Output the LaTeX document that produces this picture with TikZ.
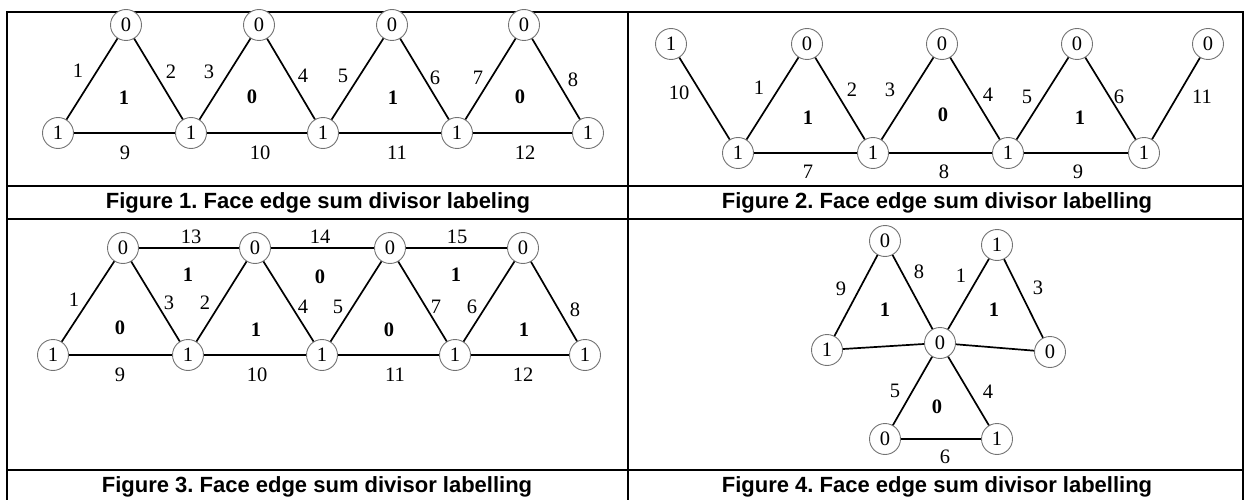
\documentclass[tikz,border=0pt]{standalone}
\usepackage{fontspec}
\setmainfont{Liberation Serif}
\newfontfamily\capfont{Liberation Sans}
\frenchspacing
\begin{document}
\begin{tikzpicture}[x=1pt,y=-1pt,
  v/.style={circle,draw=black!55,line width=0.9pt,minimum size=31pt,inner sep=0pt,fill=white,font=\fontsize{20.5}{20}\selectfont},
  e/.style={line width=1.7pt,black},
  lb/.style={inner sep=0pt,font=\fontsize{20.5}{20}\selectfont},
  fc/.style={inner sep=0pt,font=\fontsize{20.5}{20}\selectfont\bfseries},
  captxt/.style={inner sep=0pt,font=\capfont\fontsize{22}{22}\selectfont\bfseries},
  gridline/.style={line width=1.6pt,black}]
\useasboundingbox (0,0) rectangle (1245,500);
% table
\draw[gridline] (7,500) -- (7,12) -- (1243,12) -- (1243,500);
\draw[gridline] (628,12) -- (628,500);
\draw[gridline] (7,186) -- (1243,186);
\draw[gridline] (7,219) -- (1243,219);
\draw[gridline] (7,470) -- (1243,470);
% ---------- Figure 1 ----------
\node[v] (a1) at (126,25) {0};
\node[v] (a2) at (259,25) {0};
\node[v] (a3) at (392,25) {0};
\node[v] (a4) at (524,25) {0};
\node[v] (b1) at (58,133) {1};
\node[v] (b2) at (191,133) {1};
\node[v] (b3) at (323,133) {1};
\node[v] (b4) at (457,133) {1};
\node[v] (b5) at (588,133) {1};
\draw[e] (b1) -- (a1); \draw[e] (a1) -- (b2); \draw[e] (b2) -- (a2); \draw[e] (a2) -- (b3);
\draw[e] (b3) -- (a3); \draw[e] (a3) -- (b4); \draw[e] (b4) -- (a4); \draw[e] (a4) -- (b5);
\draw[e] (b1) -- (b2); \draw[e] (b2) -- (b3); \draw[e] (b3) -- (b4); \draw[e] (b4) -- (b5);
\node[lb] (l11) at (78,71) {1};
\node[lb] (l12) at (171,72) {2};
\node[lb] (l13) at (209,72) {3};
\node[lb] (l14) at (303,76) {4};
\node[lb] (l15) at (343,76) {5};
\node[lb] (l16) at (435,78) {6};
\node[lb] (l17) at (478,78) {7};
\node[lb] (l18) at (573,80) {8};
\node[lb] (l19) at (125,153) {9};
\node[lb] (l110) at (260,153) {10};
\node[lb] (l111) at (397,153) {11};
\node[lb] (l112) at (525,153) {12};
\node[fc] (f11) at (124,98) {1};
\node[fc] (f12) at (252,97) {0};
\node[fc] (f13) at (393,98) {1};
\node[fc] (f14) at (520,97) {0};
% ---------- Figure 2 ----------
\node[v] (c1) at (671,44) {1};
\node[v] (c2) at (807,44) {0};
\node[v] (c3) at (942,44) {0};
\node[v] (c4) at (1077,44) {0};
\node[v] (c5) at (1208,44) {0};
\node[v] (d1) at (738,153) {1};
\node[v] (d2) at (873,153) {1};
\node[v] (d3) at (1008,153) {1};
\node[v] (d4) at (1144,153) {1};
\draw[e] (c1) -- (d1); \draw[e] (d1) -- (c2); \draw[e] (c2) -- (d2); \draw[e] (d2) -- (c3);
\draw[e] (c3) -- (d3); \draw[e] (d3) -- (c4); \draw[e] (c4) -- (d4); \draw[e] (d4) -- (c5);
\draw[e] (d1) -- (d2); \draw[e] (d2) -- (d3); \draw[e] (d3) -- (d4);
\node[lb] (l210) at (679,93) {10};
\node[lb] (l21) at (759,88) {1};
\node[lb] (l22) at (852,90) {2};
\node[lb] (l23) at (890,90) {3};
\node[lb] (l24) at (988,95) {4};
\node[lb] (l25) at (1027,97) {5};
\node[lb] (l26) at (1119,97) {6};
\node[lb] (l211) at (1202,97) {11};
\node[lb] (l27) at (808,172) {7};
\node[lb] (l28) at (944,172) {8};
\node[lb] (l29) at (1078,172) {9};
\node[fc] (f21) at (808,118) {1};
\node[fc] (f22) at (943,115) {0};
\node[fc] (f23) at (1080,118) {1};
% ---------- Figure 3 ----------
\node[v] (e1) at (123,248) {0};
\node[v] (e2) at (255,248) {0};
\node[v] (e3) at (390,248) {0};
\node[v] (e4) at (523,248) {0};
\node[v] (g1) at (53,355) {1};
\node[v] (g2) at (188,355) {1};
\node[v] (g3) at (322,355) {1};
\node[v] (g4) at (455,355) {1};
\node[v] (g5) at (585,355) {1};
\draw[e] (g1) -- (e1); \draw[e] (e1) -- (g2); \draw[e] (g2) -- (e2); \draw[e] (e2) -- (g3);
\draw[e] (g3) -- (e3); \draw[e] (e3) -- (g4); \draw[e] (g4) -- (e4); \draw[e] (e4) -- (g5);
\draw[e] (g1) -- (g2); \draw[e] (g2) -- (g3); \draw[e] (g3) -- (g4); \draw[e] (g4) -- (g5);
\draw[e] (e1) -- (e2); \draw[e] (e2) -- (e3); \draw[e] (e3) -- (e4);
\node[lb] (l31) at (74,300) {1};
\node[lb] (l33) at (169,303) {3};
\node[lb] (l32) at (205,303) {2};
\node[lb] (l34) at (303,307) {4};
\node[lb] (l35) at (338,307) {5};
\node[lb] (l37) at (436,307) {7};
\node[lb] (l36) at (472,307) {6};
\node[lb] (l38) at (575,310) {8};
\node[lb] (l313) at (191,237) {13};
\node[lb] (l314) at (320,237) {14};
\node[lb] (l315) at (457,237) {15};
\node[lb] (l39) at (120,375) {9};
\node[lb] (l310) at (257,375) {10};
\node[lb] (l311) at (395,375) {11};
\node[lb] (l312) at (523,375) {12};
\node[fc] (f31) at (188,275) {1};
\node[fc] (f32) at (320,277) {0};
\node[fc] (f33) at (456,275) {1};
\node[fc] (f34) at (120,328) {0};
\node[fc] (f35) at (256,330) {1};
\node[fc] (f36) at (389,330) {0};
\node[fc] (f37) at (524,330) {1};
% ---------- Figure 4 ----------
\node[v] (h0) at (940,343) {0};
\node[v] (h1) at (885,241) {0};
\node[v] (h2) at (827,350) {1};
\node[v] (h3) at (997,245) {1};
\node[v] (h4) at (1050,352) {0};
\node[v] (h5) at (885,439) {0};
\node[v] (h6) at (997,439) {1};
\draw[e] (h2) -- (h1); \draw[e] (h1) -- (h0); \draw[e] (h2) -- (h0);
\draw[e] (h0) -- (h3); \draw[e] (h3) -- (h4); \draw[e] (h0) -- (h4);
\draw[e] (h0) -- (h5); \draw[e] (h0) -- (h6); \draw[e] (h5) -- (h6);
\node[lb] (l49) at (841,289) {9};
\node[lb] (l48) at (919,272) {8};
\node[lb] (l41) at (961,276) {1};
\node[lb] (l43) at (1038,288) {3};
\node[lb] (l45) at (895,391) {5};
\node[lb] (l44) at (988,392) {4};
\node[lb] (l46) at (945,457) {6};
\node[fc] (f41) at (885,310) {1};
\node[fc] (f42) at (994,310) {1};
\node[fc] (f43) at (937,407) {0};
% ---------- captions ----------
\node[captxt] (cap1) at (318,203) {Figure 1. Face edge sum divisor labeling};
\node[captxt] (cap2) at (937,203) {Figure 2. Face edge sum divisor labelling};
\node[captxt] (cap3) at (317,487) {Figure 3. Face edge sum divisor labelling};
\node[captxt] (cap4) at (937,487) {Figure 4. Face edge sum divisor labelling};
\end{tikzpicture}
\end{document}
